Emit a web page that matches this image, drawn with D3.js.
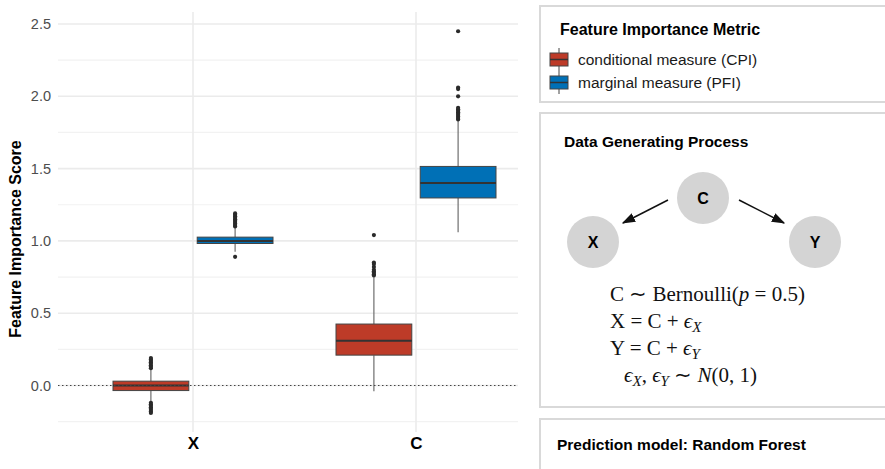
<!DOCTYPE html>
<html><head><meta charset="utf-8">
<script src="https://cdn.jsdelivr.net/npm/d3@7"></script>
<style>
body{margin:0;background:#fff;}
svg{display:block;font-family:"Liberation Sans",Arial,Helvetica,sans-serif;}
</style></head>
<body>
<svg id="chart" width="885" height="469"></svg>
<script>
// ---- data ----
const categories = ["X", "C"];
const metrics = ["CPI", "PFI"];
const metricLabels = ["conditional measure (CPI)", "marginal measure (PFI)"];
const metricColors = ["#BD3B28", "#0070B6"];
const yTicks = [0, 0.5, 1.0, 1.5, 2.0, 2.5];
const yMinorTicks = [-0.25, 0.25, 0.75, 1.25, 1.75, 2.25];
// box stats per category/metric: [q1, median, q3, whiskerLow, whiskerHigh]
const statsX_CPI = [-0.035, 0.0, 0.03, -0.11, 0.11];
const statsX_PFI = [0.982, 1.0, 1.026, 0.925, 1.095];
const statsC_CPI = [0.21, 0.31, 0.425, -0.04, 0.745];
const statsC_PFI = [1.297, 1.40, 1.515, 1.06, 1.83];
const outX_CPI = [0.12,0.13,0.14,0.15,0.16,0.17,0.18,0.19,-0.12,-0.13,-0.14,-0.15,-0.16,-0.17,-0.18,-0.19];
const outX_PFI = [1.10,1.11,1.12,1.13,1.14,1.15,1.16,1.17,1.18,1.19,0.89];
const outC_CPI = [0.76,0.77,0.78,0.79,0.80,0.82,0.84,0.85,1.04];
const outC_PFI = [1.84,1.85,1.86,1.87,1.88,1.89,1.90,1.91,1.92,2.00,2.05,2.06,2.45];

const boxes = [
  {cat:"X", m:"CPI", s:statsX_CPI, out:outX_CPI},
  {cat:"X", m:"PFI", s:statsX_PFI, out:outX_PFI},
  {cat:"C", m:"CPI", s:statsC_CPI, out:outC_CPI},
  {cat:"C", m:"PFI", s:statsC_PFI, out:outC_PFI}
];

const svg = d3.select("#chart");
const panel = {left:58, right:518, top:12, bottom:432};

const y = d3.scaleLinear().domain([0, 2.5]).range([385.5, 24]);
const x = d3.scalePoint().domain(categories).range([193, 416]);
const dodge = d3.scaleBand().domain(metrics).range([-80, 80]).paddingInner(0.1);
const color = d3.scaleOrdinal().domain(metrics).range(metricColors);

// grid
const g = svg.append("g");
g.selectAll(".minor").data(yMinorTicks).join("line")
  .attr("x1", panel.left).attr("x2", panel.right)
  .attr("y1", d=>y(d)).attr("y2", d=>y(d))
  .attr("stroke", "#f2f2f2").attr("stroke-width", 1.2);
g.selectAll(".major").data(yTicks).join("line")
  .attr("x1", panel.left).attr("x2", panel.right)
  .attr("y1", d=>y(d)).attr("y2", d=>y(d))
  .attr("stroke", "#ebebeb").attr("stroke-width", 1.6);
g.selectAll(".vgrid").data(categories).join("line")
  .attr("x1", d=>x(d)).attr("x2", d=>x(d))
  .attr("y1", panel.top).attr("y2", panel.bottom)
  .attr("stroke", "#ebebeb").attr("stroke-width", 1.6);

// y axis labels
const yAxis = d3.axisLeft(y).tickValues(yTicks).tickFormat(d3.format(".1f")).tickSize(0).tickPadding(7);
const ya = svg.append("g").attr("transform", `translate(${panel.left},0)`).call(yAxis);
ya.select(".domain").remove();
ya.selectAll("text").attr("fill", "#4d4d4d").style("font-size", "14.5px")
  .style("font-family", "'Liberation Sans', Arial, sans-serif");

// x axis labels
const xAxis = d3.axisBottom(x).tickSize(0).tickPadding(0);
const xa = svg.append("g").attr("transform", `translate(0,437)`).call(xAxis);
xa.select(".domain").remove();
xa.selectAll("text").attr("fill", "#000").style("font-size", "17px").style("font-weight", "bold")
  .style("font-family", "'Liberation Sans', Arial, sans-serif");

// y title
svg.append("text").attr("transform", "translate(21,239) rotate(-90)")
  .attr("text-anchor", "middle").style("font-size", "16px").style("font-weight", "bold")
  .text("Feature Importance Score");

// boxes
const bw = dodge.bandwidth();
boxes.forEach(b => {
  const cx = x(b.cat) + dodge(b.m) + bw/2;
  const [q1, med, q3, wl, wh] = b.s;
  const bg = svg.append("g");
  bg.append("line").attr("x1", cx).attr("x2", cx).attr("y1", y(q3)).attr("y2", y(wh))
    .attr("stroke", "#6e6e6e").attr("stroke-width", 1.2);
  bg.append("line").attr("x1", cx).attr("x2", cx).attr("y1", y(q1)).attr("y2", y(wl))
    .attr("stroke", "#6e6e6e").attr("stroke-width", 1.2);
  bg.append("rect").attr("x", cx - bw/2).attr("width", bw)
    .attr("y", y(q3)).attr("height", y(q1) - y(q3))
    .attr("fill", color(b.m)).attr("stroke", "#444").attr("stroke-width", 1);
  bg.append("line").attr("x1", cx - bw/2).attr("x2", cx + bw/2).attr("y1", y(med)).attr("y2", y(med))
    .attr("stroke", "#333").attr("stroke-width", 2);
  bg.selectAll("circle").data(b.out).join("circle")
    .attr("cx", cx).attr("cy", d=>y(d)).attr("r", 2.1).attr("fill", "#2a2a2a");
});

// zero reference line
svg.append("line").attr("x1", panel.left).attr("x2", panel.right)
  .attr("y1", y(0)).attr("y2", y(0))
  .attr("stroke", "#444").attr("stroke-width", 1).attr("stroke-dasharray", "1.5,2.5");

// ---- right panels ----
const bx = 540;
function panelBox(yy, h){
  svg.append("rect").attr("x", bx).attr("y", yy).attr("width", 400).attr("height", h)
    .attr("fill", "#fff").attr("stroke", "#d9d9d9").attr("stroke-width", 2);
}
panelBox(6, 96);
panelBox(113, 294);
panelBox(419, 80);

// legend
svg.append("text").attr("x", 560).attr("y", 35).style("font-size", "16px").style("font-weight", "bold")
  .text("Feature Importance Metric");
metrics.forEach((m, i) => {
  const top = 48 + i*23;
  const kg = svg.append("g");
  kg.append("line").attr("x1", 559).attr("x2", 559).attr("y1", top).attr("y2", top+23)
    .attr("stroke", "#444").attr("stroke-width", 1);
  kg.append("rect").attr("x", 550).attr("y", top+5).attr("width", 18).attr("height", 13)
    .attr("fill", color(m)).attr("stroke", "#444").attr("stroke-width", 1);
  kg.append("line").attr("x1", 550).attr("x2", 568).attr("y1", top+11.5).attr("y2", top+11.5)
    .attr("stroke", "#333").attr("stroke-width", 1.5);
  svg.append("text").attr("x", 578).attr("y", top+17).style("font-size", "15.5px")
    .attr("fill", "#1a1a1a").text(metricLabels[i]);
});

// DGP
svg.append("text").attr("x", 564).attr("y", 147).style("font-size", "15.5px").style("font-weight", "bold")
  .text("Data Generating Process");
const nodes = [{id:"C", x:703, y:198},{id:"X", x:593, y:242},{id:"Y", x:815, y:242}];
const defs = svg.append("defs");
defs.append("marker").attr("id", "arr").attr("viewBox", "0 0 10 10").attr("refX", 9).attr("refY", 5)
  .attr("markerWidth", 9).attr("markerHeight", 9).attr("orient", "auto")
  .append("path").attr("d", "M0,1.5 L10,5 L0,8.5 Z").attr("fill", "#111");
svg.selectAll(".node").data(nodes).join("circle")
  .attr("cx", d=>d.x).attr("cy", d=>d.y).attr("r", 26).attr("fill", "#d4d4d4");
svg.selectAll(".nlab").data(nodes).join("text")
  .attr("x", d=>d.x).attr("y", d=>d.y+6).attr("text-anchor", "middle")
  .style("font-size", "16px").style("font-weight", "bold").text(d=>d.id);
svg.append("line").attr("x1", 668).attr("y1", 200).attr("x2", 623).attr("y2", 223)
  .attr("stroke", "#111").attr("stroke-width", 1.5).attr("marker-end", "url(#arr)");
svg.append("line").attr("x1", 739).attr("y1", 200).attr("x2", 784).attr("y2", 223)
  .attr("stroke", "#111").attr("stroke-width", 1.5).attr("marker-end", "url(#arr)");

// equations
const eqFont = "'Liberation Serif','Times New Roman',serif";
function eq(xx, yy, parts){
  const t = svg.append("text").attr("x", xx).attr("y", yy)
    .style("font-family", eqFont).style("font-size", "21px").attr("fill", "#111");
  parts.forEach(p => {
    const ts = t.append("tspan").text(p.t);
    if (p.i) ts.style("font-style", "italic");
    if (p.sub) ts.attr("dy", 4).style("font-size", "15px").style("font-style", "italic");
    if (p.up) ts.attr("dy", -4);
  });
}
eq(610, 301, [{t:"C \u223C Bernoulli("},{t:"p",i:true},{t:" = 0.5)"}]);
eq(610, 328, [{t:"X = C + "},{t:"\u03F5",i:true},{t:"X",sub:true}]);
eq(610, 355, [{t:"Y = C + "},{t:"\u03F5",i:true},{t:"Y",sub:true}]);
eq(624, 382, [{t:"\u03F5",i:true},{t:"X",sub:true},{t:", ",up:true},{t:"\u03F5",i:true},{t:"Y",sub:true},{t:" \u223C ",up:true},{t:"N",i:true},{t:"(0, 1)"}]);

svg.append("text").attr("x", 557).attr("y", 450).style("font-size", "15.5px").style("font-weight", "bold")
  .text("Prediction model: Random Forest");
</script>
</body></html>
